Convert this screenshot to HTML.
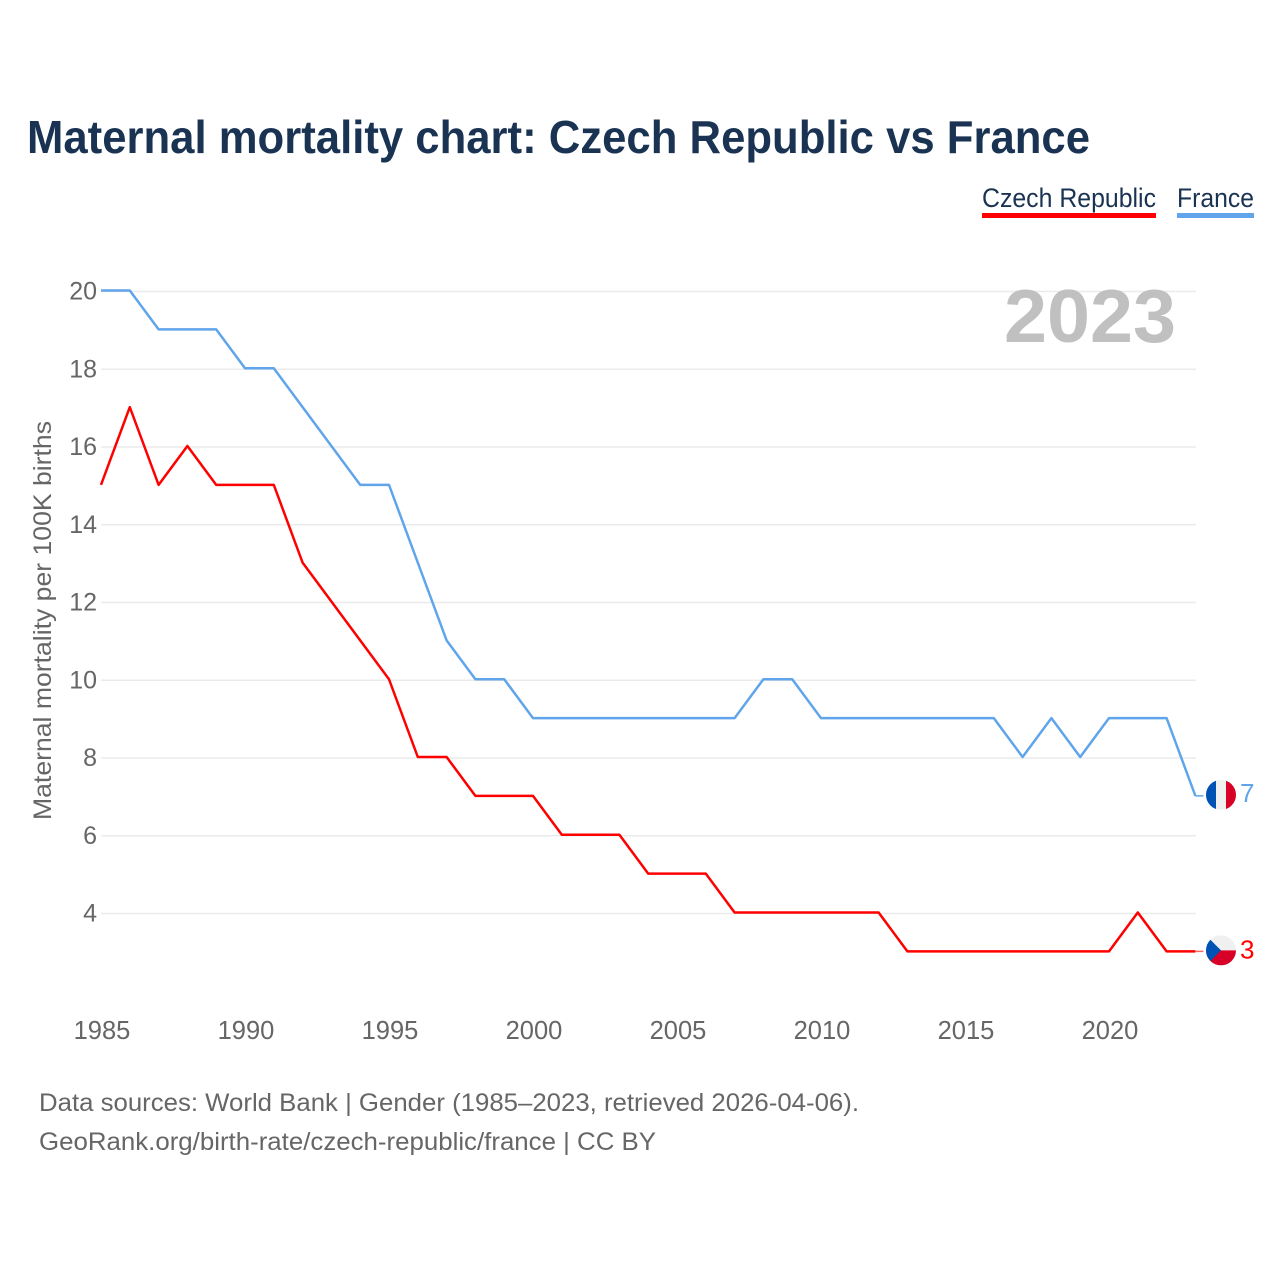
<!DOCTYPE html>
<html lang="en">
<head>
<meta charset="utf-8">
<title>Maternal mortality chart: Czech Republic vs France</title>
<style>
html,body{margin:0;padding:0;background:#fff;width:1280px;height:1280px;overflow:hidden}
svg{display:block}
text{font-family:"Liberation Sans",sans-serif}
</style>
</head>
<body>
<svg id="chart" xmlns="http://www.w3.org/2000/svg" width="1280" height="1280" viewBox="0 0 1280 1280">
  <rect width="1280" height="1280" fill="#fff"/>
  <text x="27" y="153" font-size="46" font-weight="700" fill="#1a3353" textLength="1063" lengthAdjust="spacingAndGlyphs">Maternal mortality chart: Czech Republic vs France</text>
  <g>
    <g>
      <text x="982" y="207" font-size="27" fill="#1a3353" textLength="174" lengthAdjust="spacingAndGlyphs">Czech Republic</text>
      <rect x="982" y="213" width="174" height="5" fill="#ff0000"/>
    </g>
    <g>
      <text x="1177" y="207" font-size="27" fill="#1a3353" textLength="77" lengthAdjust="spacingAndGlyphs">France</text>
      <rect x="1177" y="213" width="77" height="5" fill="#60a5eb"/>
    </g>
  </g>
  <g id="grid"></g>
  <g id="y-ticks"></g>
  <g id="x-ticks"></g>
  <text x="1004" y="342" font-size="75" font-weight="700" fill="#c0c0c0" textLength="172" lengthAdjust="spacingAndGlyphs">2023</text>
  <text transform="translate(51,820) rotate(-90)" x="0" y="0" font-size="25" fill="#666" textLength="399" lengthAdjust="spacingAndGlyphs">Maternal mortality per 100K births</text>
  <g id="series"></g>
  <defs>
    <clipPath id="flag-clip"><circle cx="0" cy="0" r="15"/></clipPath>
  </defs>
  <g id="flag-france" clip-path="url(#flag-clip)">
    <rect x="-15" y="-15" width="10" height="30" fill="#0052b4"/>
    <rect x="-5" y="-15" width="10" height="30" fill="#f0f0f0"/>
    <rect x="5" y="-15" width="10" height="30" fill="#d80027"/>
  </g>
  <g id="flag-czech" clip-path="url(#flag-clip)">
    <rect x="-15" y="-15" width="30" height="15" fill="#f0f0f0"/>
    <rect x="-15" y="0" width="30" height="15" fill="#d80027"/>
    <polygon points="-15,-15 -10.6,-10.6 0,0 -10.6,10.6 -15,15" fill="#0052b4"/>
  </g>
  <text id="end-france" x="1240" font-size="26" fill="#60a5eb"></text>
  <text id="end-czech" x="1240" font-size="26" fill="#ff0000"></text>
  <text x="39" y="1111" font-size="25" fill="#666" textLength="820" lengthAdjust="spacingAndGlyphs">Data sources: World Bank | Gender (1985–2023, retrieved 2026-04-06).</text>
  <text x="39" y="1150" font-size="25" fill="#666" textLength="617" lengthAdjust="spacingAndGlyphs">GeoRank.org/birth-rate/czech-republic/france | CC BY</text>
</svg>
<script>
const years = [1985,1986,1987,1988,1989,1990,1991,1992,1993,1994,1995,1996,1997,1998,1999,2000,2001,2002,2003,2004,2005,2006,2007,2008,2009,2010,2011,2012,2013,2014,2015,2016,2017,2018,2019,2020,2021,2022,2023];
const czechValues = [15,17,15,16,15,15,15,13,12,11,10,8,8,7,7,7,6,6,6,5,5,5,4,4,4,4,4,4,3,3,3,3,3,3,3,3,4,3,3];
const franceValues = [20,20,19,19,19,18,18,17,16,15,15,13,11,10,10,9,9,9,9,9,9,9,9,10,10,9,9,9,9,9,9,9,8,9,8,9,9,9,7];
const yTickLabels = [4,6,8,10,12,14,16,18,20];
const xTickLabels = [1985,1990,1995,2000,2005,2010,2015,2020];

const SVG_NS = 'http://www.w3.org/2000/svg';
function xScale(year) { return 101 + (year - 1985) * 28.8; }
function yScale(value) { return 290.5 + (20 - value) * 38.875; }

const gridGroup = document.getElementById('grid');
const yTickGroup = document.getElementById('y-ticks');
const xTickGroup = document.getElementById('x-ticks');
const seriesGroup = document.getElementById('series');

yTickLabels.forEach(function (tick) {
  const line = document.createElementNS(SVG_NS, 'line');
  
  
  line.setAttribute('x1', 101);
  line.setAttribute('x2', 1196);
  line.setAttribute('y1', yScale(tick) + 1);
  line.setAttribute('y2', yScale(tick) + 1);
  line.setAttribute('stroke', '#ebebeb');
  line.setAttribute('stroke-width', 1.5);
  gridGroup.appendChild(line);

  const label = document.createElementNS(SVG_NS, 'text');
  
  
  label.setAttribute('x', 97);
  label.setAttribute('y', yScale(tick) + 9);
  label.setAttribute('text-anchor', 'end');
  label.setAttribute('font-size', 25);
  label.setAttribute('fill', '#666');
  label.textContent = tick;
  yTickGroup.appendChild(label);
});

xTickLabels.forEach(function (tick) {
  const label = document.createElementNS(SVG_NS, 'text');
  
  
  label.setAttribute('x', xScale(tick) + 1);
  label.setAttribute('y', 1039);
  label.setAttribute('text-anchor', 'middle');
  label.setAttribute('font-size', 25.5);
  label.setAttribute('fill', '#666');
  label.textContent = tick;
  xTickGroup.appendChild(label);
});

function pathFor(values) {
  return values.map(function (v, i) {
    return (i ? 'L' : 'M') + xScale(years[i]) + ' ' + yScale(v);
  }).join(' ');
}

const francePath = document.createElementNS(SVG_NS, 'path');


francePath.setAttribute('d', pathFor(franceValues));
francePath.setAttribute('fill', 'none');
francePath.setAttribute('stroke', '#60a5eb');
francePath.setAttribute('stroke-width', 2.5);
francePath.setAttribute('stroke-linejoin', 'round');
seriesGroup.appendChild(francePath);

const czechPath = document.createElementNS(SVG_NS, 'path');


czechPath.setAttribute('d', pathFor(czechValues));
czechPath.setAttribute('fill', 'none');
czechPath.setAttribute('stroke', '#ff0000');
czechPath.setAttribute('stroke-width', 2.5);
czechPath.setAttribute('stroke-linejoin', 'round');
seriesGroup.appendChild(czechPath);

const lastFrance = franceValues[franceValues.length - 1];
const lastCzech = czechValues[czechValues.length - 1];
const lastX = xScale(years[years.length - 1]);

const franceStub = document.createElementNS(SVG_NS, 'line');


franceStub.setAttribute('x1', lastX);
franceStub.setAttribute('x2', lastX + 8);
franceStub.setAttribute('y1', yScale(lastFrance));
franceStub.setAttribute('y2', yScale(lastFrance));
franceStub.setAttribute('stroke', '#60a5eb');
franceStub.setAttribute('stroke-width', 1.5);
seriesGroup.appendChild(franceStub);

const czechStub = document.createElementNS(SVG_NS, 'line');


czechStub.setAttribute('x1', lastX);
czechStub.setAttribute('x2', lastX + 8);
czechStub.setAttribute('y1', yScale(lastCzech));
czechStub.setAttribute('y2', yScale(lastCzech));
czechStub.setAttribute('stroke', '#ff6666');
czechStub.setAttribute('stroke-width', 1.5);
seriesGroup.appendChild(czechStub);

document.getElementById('flag-france').setAttribute('transform', 'translate(1221,' + (yScale(lastFrance) - 1) + ')');
document.getElementById('flag-czech').setAttribute('transform', 'translate(1221,' + (yScale(lastCzech) - 1) + ')');

const endFrance = document.getElementById('end-france');
endFrance.setAttribute('y', yScale(lastFrance) + 6);
endFrance.textContent = lastFrance;
const endCzech = document.getElementById('end-czech');
endCzech.setAttribute('y', yScale(lastCzech) + 7);
endCzech.textContent = lastCzech;
</script>
</body>
</html>
